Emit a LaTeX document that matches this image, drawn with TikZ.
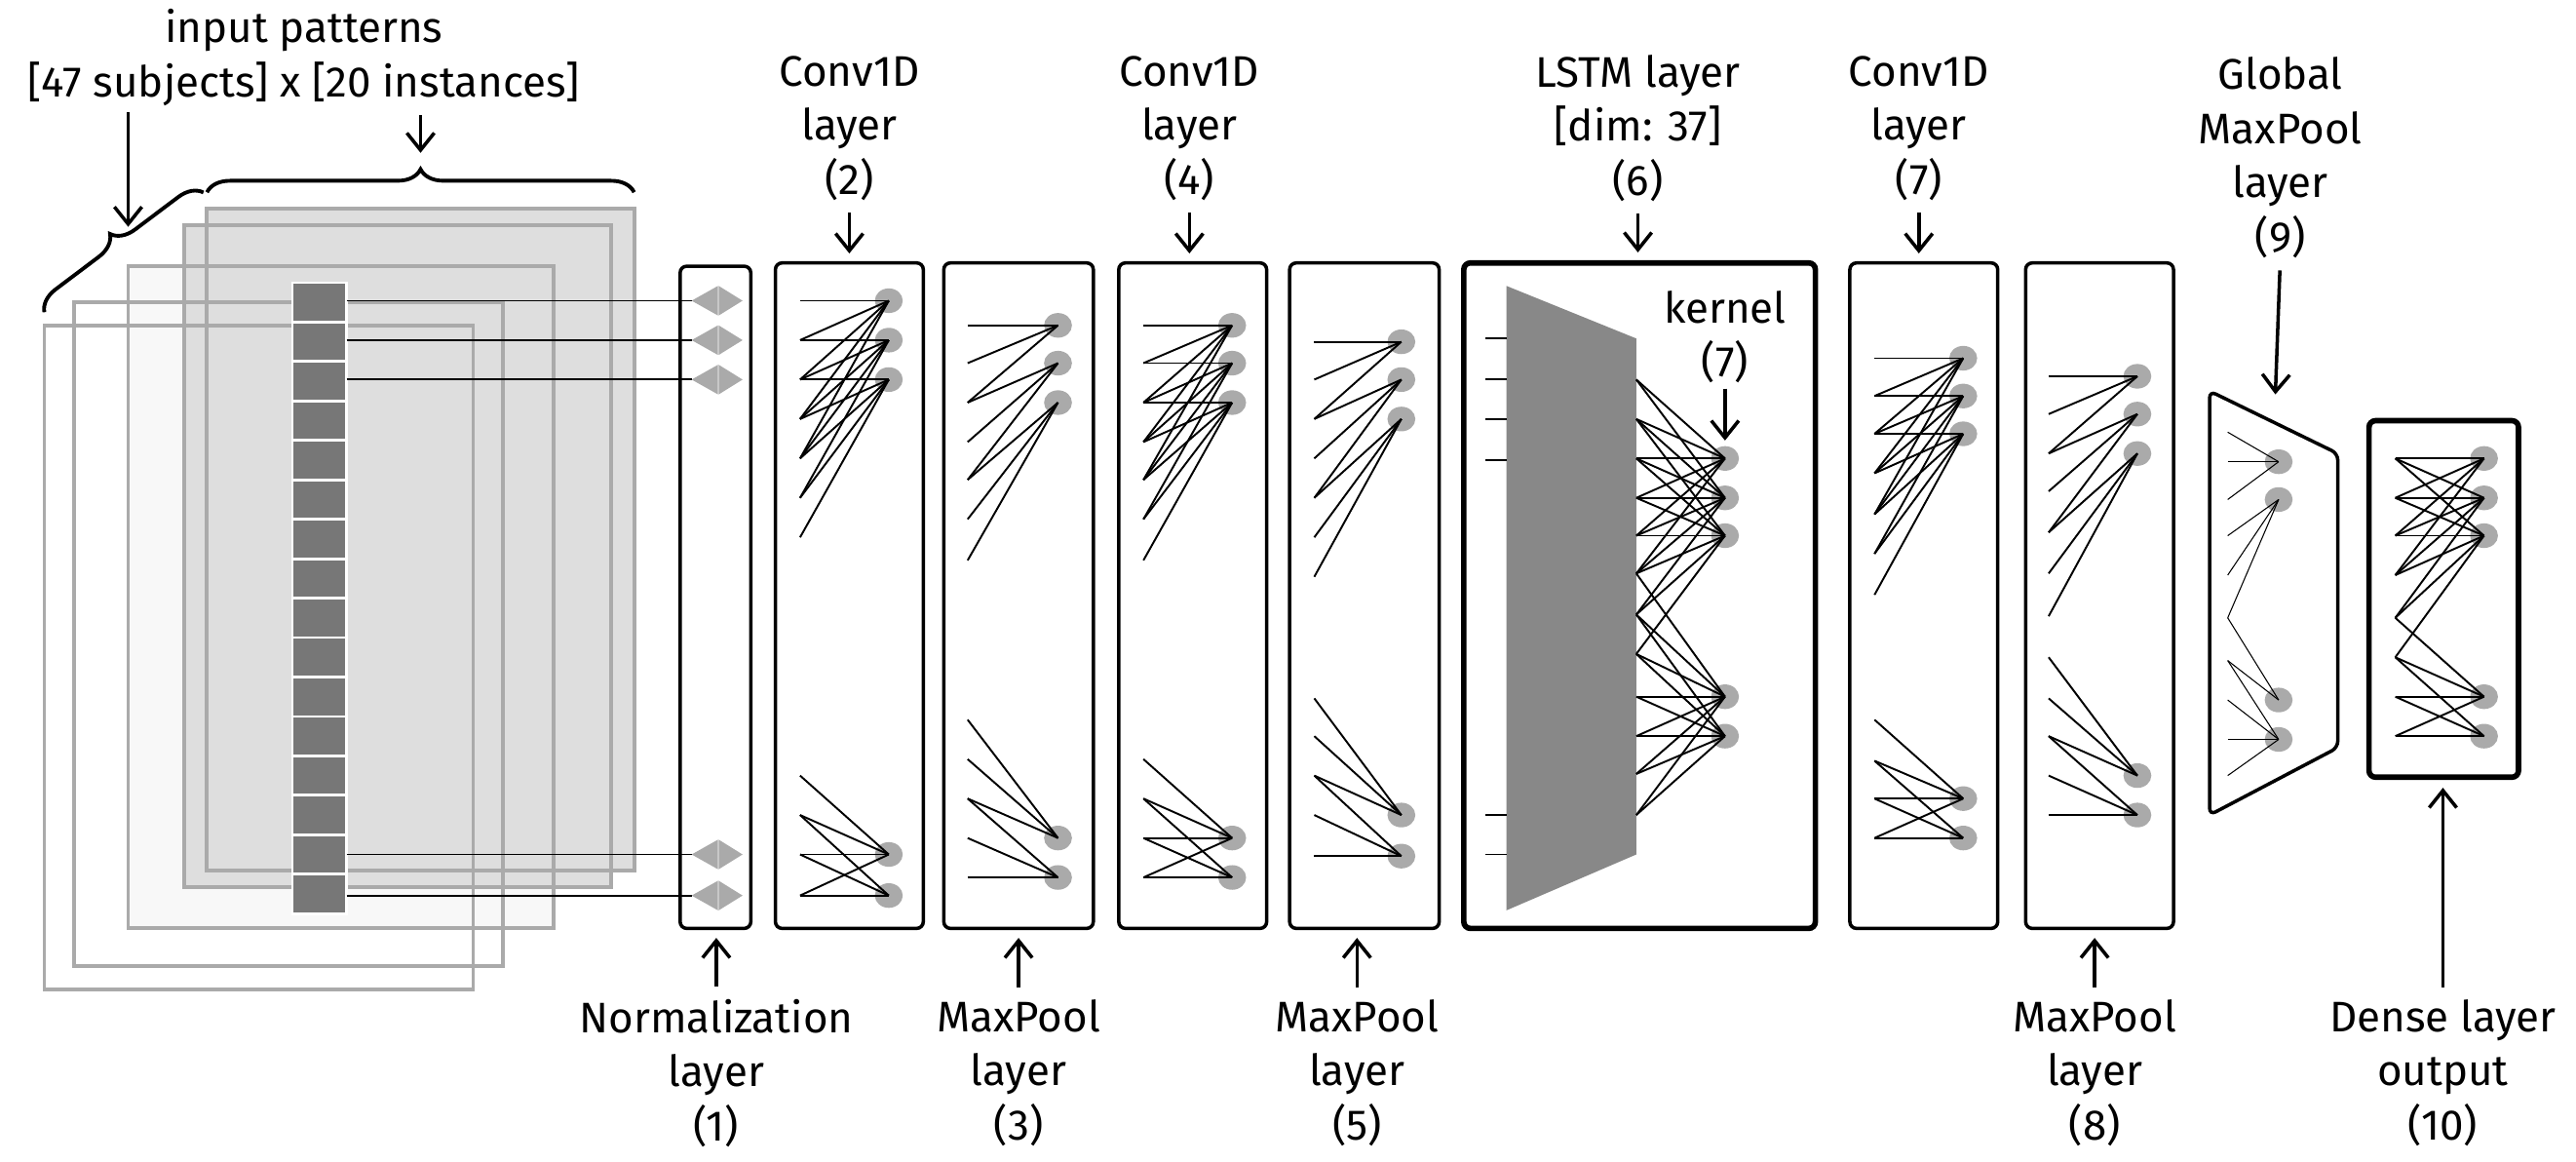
\documentclass[tikz,border=0pt]{standalone}
\usepackage{fontspec}
\setmainfont{Fira Sans}
\usetikzlibrary{arrows.meta,decorations.pathreplacing,shapes.geometric}
\newdimen\U \U=0.016856cm
\definecolor{ngray}{HTML}{AAAAAA}
\definecolor{bargray}{HTML}{777777}
\definecolor{lstmgray}{HTML}{888888}
\definecolor{sheet}{HTML}{DEDEDE}
\definecolor{sheetl}{HTML}{F8F8F8}
\tikzset{
  lbl/.style={align=center,inner sep=0pt,font=\fontsize{12.5}{15.8}\selectfont},
  arr/.style={-{Straight Barb[length=5pt,width=8pt]},line width=1pt,shorten <=0.12cm,shorten >=0.08cm},
  box/.style={draw,line width=1pt,rounded corners=4\U,inner sep=0pt},
  tbox/.style={box,line width=1.6pt},
  neuron/.style={ellipse,fill=ngray,minimum width=17\U,minimum height=15\U,inner sep=0pt},
  conn/.style={line width=0.55pt},
  sheetline/.style={draw=ngray,line width=1.1pt},
  tri/.style={fill=ngray}
}
\newcommand\mylayer[4]{%
  \foreach \cy/\ins in {#4}{\node[neuron] (#1-\cy) at (#3,\cy) {};}
  \foreach \cy/\ins in {#4}{\foreach \iy in \ins {%
    \coordinate (#1i-\iy) at (#2,\iy);
    \draw[conn] (#1i-\iy) -- (#1-\cy.center);}}%
}
\begin{document}
\begin{tikzpicture}[x=0.016856cm,y=-0.016856cm]
\useasboundingbox (0,0) rectangle (1568,707);
% sheets
\fill[sheetl] (78,162) rectangle (337,565);
\fill[sheet] (112,137) rectangle (372,540);
\fill[sheet] (126,127) rectangle (386,530);
\draw[sheetline] (126,127) rectangle (386,530);
\draw[sheetline] (112,137) rectangle (372,540);
\draw[sheetline] (78,162) rectangle (337,565);
\draw[sheetline] (45,184) rectangle (306,588);
\draw[sheetline] (27,198) rectangle (288,602);
% bar
\foreach \i in {0,...,15}{\fill[bargray,draw=white,line width=0.8pt] (178,172+24*\i) rectangle (211,196+24*\i);}
% braces
\draw[decorate,decoration={brace,amplitude=14\U},line width=1.1pt] (126,117) -- (386,117);
\draw[decorate,decoration={brace,amplitude=14\U},line width=1.1pt] (27,190) -- (124,117);
\node[lbl] (inp) at (185,35) {input patterns\\{}[47 subjects] x [20 instances]};
\coordinate (ta) at (78,68); \coordinate (tb) at (78,138);
\draw[arr,shorten <=0pt,shorten >=0pt] (ta) -- (tb);
\coordinate (tc) at (256,70); \coordinate (td) at (256,93);
\draw[arr,shorten <=0pt,shorten >=0pt] (tc) -- (td);
% boxes
\node[box,minimum width=43\U,minimum height=403\U] (b1) at (435.5,363.5) {};
\node[box,minimum width=90\U,minimum height=405\U] (b2) at (517,362.5) {};
\node[box,minimum width=91\U,minimum height=405\U] (b3) at (620,362.5) {};
\node[box,minimum width=90\U,minimum height=405\U] (b4) at (726,362.5) {};
\node[box,minimum width=91\U,minimum height=405\U] (b5) at (830.5,362.5) {};
\node[tbox,minimum width=214\U,minimum height=405\U] (b6) at (998,362.5) {};
\node[box,minimum width=90\U,minimum height=405\U] (b7) at (1171,362.5) {};
\node[box,minimum width=90\U,minimum height=405\U] (b8) at (1278,362.5) {};
\draw[box] (1345,238) -- (1423,276) -- (1423,455) -- (1345,496) -- cycle;
\coordinate (b9) at (1385,240);
\node[tbox,minimum width=91\U,minimum height=217\U] (b10) at (1487.5,364.5) {};
% normalization
\foreach \y in {183,207,231,520,545}{
  \coordinate (s-\y) at (211,\y);
  \fill[tri] (421,\y) -- (437,\y-9) -- (437,\y+9) -- cycle;
  \fill[tri] (452,\y) -- (437.5,\y-9) -- (437.5,\y+9) -- cycle;
  \coordinate (n-\y) at (421,\y);
  \draw[conn] (s-\y) -- (n-\y);
}
% layers
\mylayer{L2}{487}{541}{183/{183,207,231,255,279},207/{207,231,255,279,303},231/{231,255,279,303,327},520/{472,496,520,545},545/{496,520,545}}
\mylayer{L3}{589}{644}{198/{198,221,245},221/{245,269,292},245/{292,316,341},510/{438,462,486},534/{486,510,534}}
\mylayer{L4}{696}{750}{198/{198,221,245,269,292},221/{221,245,269,292,316},245/{245,269,292,316,341},510/{462,486,510,534},534/{486,510,534}}
\mylayer{L5}{800}{853}{208/{208,231,255},231/{255,279,303},255/{303,327,351},496/{425,448,472},521/{472,496,521}}
% LSTM
\fill[lstmgray] (917,174) -- (996,206) -- (996,520) -- (917,554) -- cycle;
\foreach \y in {206,231,255,280,496,520}{
  \coordinate (li-\y) at (904,\y); \coordinate (lo-\y) at (917,\y);
  \draw[conn] (li-\y) -- (lo-\y);}
\mylayer{L6}{996}{1050}{279/{231,255,279,303,326,349},303/{231,255,279,303,326,349,374},326/{255,279,303,326,349,374,398},424/{349,374,398,424,448,471,496},448/{374,398,424,448,471,496}}
\node[lbl] (ker) at (1050,205) {kernel\\(7)};
\node[neuron,opacity=0] (kt) at (1050,276) {};
\draw[arr,shorten <=0.05cm,shorten >=0pt] (ker.south) -- (kt.north);
\mylayer{L7}{1141}{1195}{218/{218,241,264,288,313},241/{241,264,288,313,337},264/{264,288,313,337,362},486/{438,463,486,510},510/{463,486,510}}
\mylayer{L8}{1247}{1301}{229/{229,252,276},252/{276,299,324},276/{324,349,375},472/{400,425,448},496/{448,472,496}}
\begin{scope}[conn/.style={line width=0.3pt}]
\mylayer{L9}{1356}{1387}{281/{263,281,304},304/{326,350,376},426/{376,402},450/{402,426,450,472}}
\end{scope}
\mylayer{L10}{1458}{1512}{279/{279,303,326,350},303/{279,303,326,350,376},326/{279,303,326,350,376,400},424/{376,400,424,448},448/{400,424,448}}
% labels
\node[lbl] (t2) at (517,78) {Conv1D\\layer\\(2)};
\node[lbl] (t4) at (724,78) {Conv1D\\layer\\(4)};
\node[lbl] (t6) at (997,78) {LSTM layer\\{}[dim: 37]\\(6)};
\node[lbl] (t7) at (1168,78) {Conv1D\\layer\\(7)};
\node[lbl] (t9) at (1388,96) {Global\\MaxPool\\layer\\(9)};
\draw[arr] (t2.south) -- (t2.south |- b2.north);
\draw[arr] (t4.south) -- (t4.south |- b4.north);
\draw[arr] (t6.south) -- (t6.south |- b6.north);
\draw[arr] (t7.south) -- (t7.south |- b7.north);
\draw[arr,shorten >=0pt] (t9.south) -- (b9);
\node[lbl] (l1) at (436,653) {Normalization\\layer\\(1)};
\node[lbl] (l3) at (620,653) {MaxPool\\layer\\(3)};
\node[lbl] (l5) at (826,653) {MaxPool\\layer\\(5)};
\node[lbl] (l8) at (1275,653) {MaxPool\\layer\\(8)};
\node[lbl] (l10) at (1487,653) {Dense layer\\output\\(10)};
\draw[arr] (l1.north) -- (l1.north |- b1.south);
\draw[arr] (l3.north) -- (l3.north |- b3.south);
\draw[arr] (l5.north) -- (l5.north |- b5.south);
\draw[arr] (l8.north) -- (l8.north |- b8.south);
\draw[arr] (l10.north) -- (l10.north |- b10.south);
\end{tikzpicture}
\end{document}
